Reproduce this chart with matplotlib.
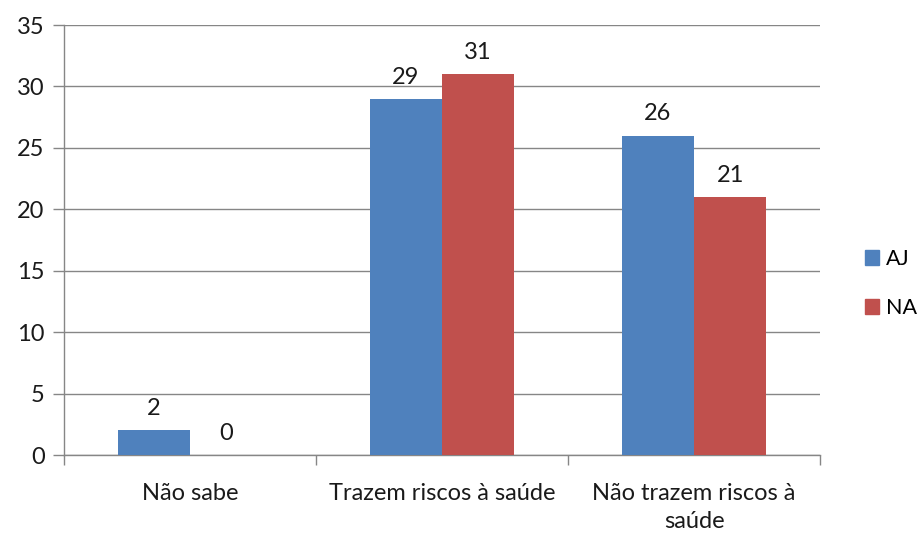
import numpy as np
import matplotlib.pyplot as plt
from matplotlib.patches import Patch

# Data
categories = ['Não sabe', 'Trazem riscos à saúde', 'Não trazem riscos à\nsaúde']
aj_values = [2, 29, 26]
na_values = [0, 31, 21]
series_names = ['AJ', 'NA']
y_ticks = [0, 5, 10, 15, 20, 25, 30, 35]

blue = '#4F81BD'
red = '#C0504D'
grid_color = '#868686'
text_color = '#1a1a1a'

plt.rcParams['font.family'] = ['Lato', 'DejaVu Sans']

fig = plt.figure(figsize=(9.17, 5.35), dpi=100, facecolor='white')
ax = fig.add_axes([0.0698, 0.1495, 0.8245, 0.8037])

x = np.arange(len(categories))
w = 0.286
b1 = ax.bar(x - w / 2, aj_values, w, color=blue, zorder=3)
b2 = ax.bar(x + w / 2, na_values, w, color=red, zorder=3)

# Value labels
for bars in (b1, b2):
    for rect in bars:
        h = rect.get_height()
        ax.annotate(f'{int(h)}', (rect.get_x() + rect.get_width() / 2, h),
                    xytext=(0, 8), textcoords='offset points',
                    ha='center', va='bottom', fontsize=17, color=text_color)

ax.set_xlim(-0.5, len(categories) - 0.5)
ax.set_ylim(0, 35)
ax.set_yticks(y_ticks)
ax.set_yticklabels([str(t) for t in y_ticks], fontsize=17, color=text_color)
ax.yaxis.grid(True, color=grid_color, linewidth=1.0, zorder=0)
ax.set_axisbelow(True)

# category labels centred, tick marks on category boundaries
ax.set_xticks(x)
ax.set_xticklabels(categories, fontsize=17, color=text_color, linespacing=1.45)
ax.tick_params(axis='x', length=0, pad=20)
ax.set_xticks(np.arange(-0.5, len(categories)), minor=True)
ax.tick_params(axis='x', which='minor', length=7, width=1, color=grid_color, direction='out')
ax.tick_params(axis='y', length=8, width=1, color=grid_color, pad=6)

for s in ['top', 'right']:
    ax.spines[s].set_visible(False)
for s in ['left', 'bottom']:
    ax.spines[s].set_color(grid_color)
    ax.spines[s].set_linewidth(1.0)

handles = [Patch(color=blue, label=series_names[0]), Patch(color=red, label=series_names[1])]
fig.legend(handles=handles, loc='center left', bbox_to_anchor=(0.922, 0.47),
           frameon=False, fontsize=15.5, handlelength=0.65, handleheight=0.65,
           handletextpad=0.35, labelspacing=1.35)

fig.savefig('out.png', dpi=100)
